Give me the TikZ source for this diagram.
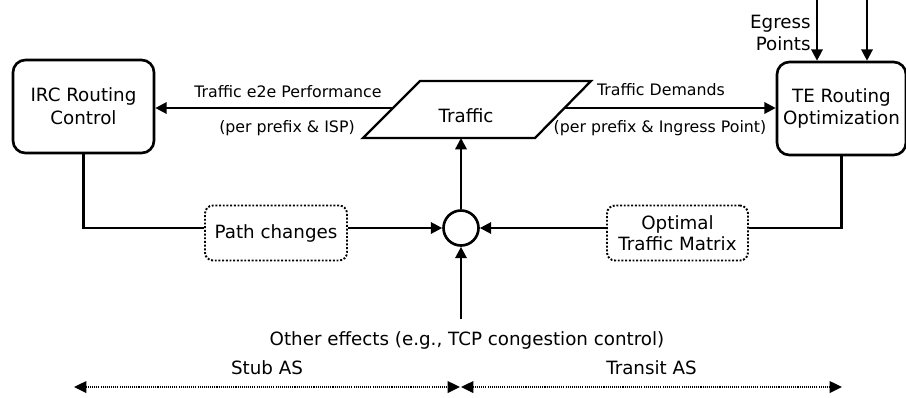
\documentclass[tikz,border=0pt]{standalone}
\usepackage{fontspec}
\setmainfont{DejaVu Sans}
\usetikzlibrary{arrows.meta}

\begin{document}
\begin{tikzpicture}[x=0.02cm, y=-0.02cm,
	box/.style={draw, rounded corners=7pt, line width=1.5pt, align=center, font=\fontsize{10.4}{13}\selectfont},
	dotbox/.style={draw, densely dotted, rounded corners=4.5pt, line width=1.1pt, align=center, font=\fontsize{10.4}{12}\selectfont},
	txt/.style={font=\fontsize{10.4}{12}\selectfont},
	lbl/.style={font=\fontsize{9}{11}\selectfont, inner sep=0pt},
	line/.style={line width=1.3pt},
	arr/.style={line, -{Triangle[length=6.5pt, width=6.5pt]}},
	span/.style={line width=1.2pt, dash pattern=on 0.6pt off 0.6pt, {Triangle[length=7pt, width=6.5pt]}-{Triangle[length=7pt, width=6.5pt]}}]
	\useasboundingbox (0,0) rectangle (906,397);
	% The two routing boxes and the traffic in between
	\node[box, minimum width=2.82cm, minimum height=1.86cm] (irc) at (83.5,106.5) {IRC Routing\\Control};
	\node[box, minimum width=2.58cm, minimum height=1.86cm] (te) at (841.5,108.5) {TE Routing\\Optimization};
	\coordinate (tbl) at (363,138);
	\coordinate (tbr) at (535,138);
	\coordinate (ttr) at (591,81);
	\coordinate (ttl) at (420,81);
	\draw[line, line join=miter] (tbl) -- (tbr) -- (ttr) -- (ttl) -- cycle;
	\node[txt] (traffic) at (466,116) {Traffic};
	\coordinate (tw) at (392,108);
	\coordinate (te-in) at (564,108);
	\node[draw, circle, line width=1.5pt, minimum size=0.7cm, inner sep=0pt] (sum) at (461,228) {};
	\node[dotbox, minimum width=2.84cm, minimum height=1.1cm] (path) at (276,233) {Path changes};
	\node[dotbox, minimum width=2.82cm, minimum height=1.1cm] (otm) at (677.5,233) {Optimal\\Traffic Matrix};
	% Arrows
	\draw[arr] (tw) -- (tw -| irc.east);
	\draw[arr] (te-in) -- (te-in -| te.west);
	\draw[arr] (sum.north) -- (sum.north |- tbl);
	\coordinate (eg1) at (817,0);
	\coordinate (eg2) at (867,0);
	\draw[arr] (eg1) -- (eg1 |- te.north);
	\draw[arr] (eg2) -- (eg2 |- te.north);
	\draw[line] (irc.south) |- (path.west |- sum);
	\draw[arr] (path.east |- sum) -- (sum.west);
	\draw[line] (te.south) |- (otm.east |- sum);
	\draw[arr] (otm.west |- sum) -- (sum.east);
	\coordinate (oe) at (461,319);
	\draw[arr] (oe) -- (sum.south);
	% Labels
	\node[lbl] (perf) at (288,92) {Traffic e2e Performance};
	\node[lbl] (perisp) at (287,128) {(per prefix \& ISP)};
	\node[lbl] (demand) at (661,90) {Traffic Demands};
	\node[lbl] (pering) at (660,128) {(per prefix \& Ingress Point)};
	\node[txt, align=right, anchor=east, inner sep=0pt] (egress) at (811,33) {Egress\\Points};
	\node[txt] (other) at (467,340) {Other effects (e.g., TCP congestion control)};
	% Stub and transit extent
	\coordinate (stubl) at (74,387);
	\coordinate (stubr) at (460,387);
	\coordinate (transl) at (461,387);
	\coordinate (transr) at (842,387);
	\draw[span] (stubl) -- (stubr) node[txt, midway, above=3pt] {Stub AS};
	\draw[span] (transl) -- (transr) node[txt, midway, above=3pt] {Transit AS};
\end{tikzpicture}
\end{document}
